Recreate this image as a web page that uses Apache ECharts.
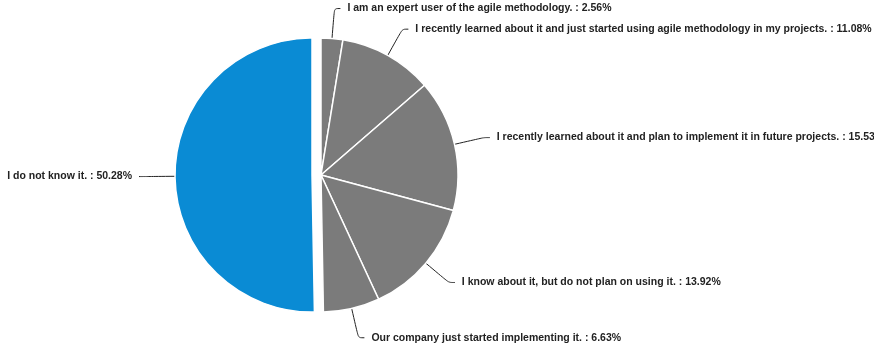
<!DOCTYPE html>
<html><head><meta charset="utf-8">
<script src="https://cdn.jsdelivr.net/npm/echarts@6/dist/echarts.min.js"></script>
<style>html,body{margin:0;padding:0;background:#fff}#c{width:874px;height:352px}</style>
</head><body><div id="c"></div>
<script>
const categories = [
  "I am an expert user of the agile methodology.",
  "I recently learned about it and just started using agile methodology in my projects.",
  "I recently learned about it and plan to implement it in future projects.",
  "I know about it, but do not plan on using it.",
  "Our company just started implementing it.",
  "I do not know it."
];
const values = [2.56, 11.08, 15.53, 13.92, 6.63, 50.28];
const colors = ["#7b7b7b","#7b7b7b","#7b7b7b","#7b7b7b","#7b7b7b","#0a8bd4"];
const selectedIdx = 5;

const chart = echarts.init(document.getElementById('c'), null, {renderer:'canvas'});
chart.setOption({
  animation:false,
  series:[{
    type:'pie',
    center:[321,175],
    radius:[0,137],
    startAngle:90,
    clockwise:true,
    avoidLabelOverlap:false,
    selectedMode:'single',
    selectedOffset:9,
    itemStyle:{borderColor:'#fff',borderWidth:1.5},
    label:{
      show:true,position:'outside',
      formatter:p=>p.name+' : '+p.value.toFixed(2)+'%',
      fontFamily:'Liberation Sans, Arial, sans-serif',
      fontSize:10.5,fontWeight:'bold',color:'#222',
      padding:[5,0,0,0],
      distanceToLabelLine:7
    },
    labelLine:{show:true,length:30,length2:6,smooth:0.3,lineStyle:{color:'#222',width:1}},
    emphasis:{disabled:true},
    data:categories.map((n,i)=>({name:n,value:values[i],selected:i===selectedIdx,itemStyle:{color:colors[i]}}))
  }]
});
</script></body></html>
